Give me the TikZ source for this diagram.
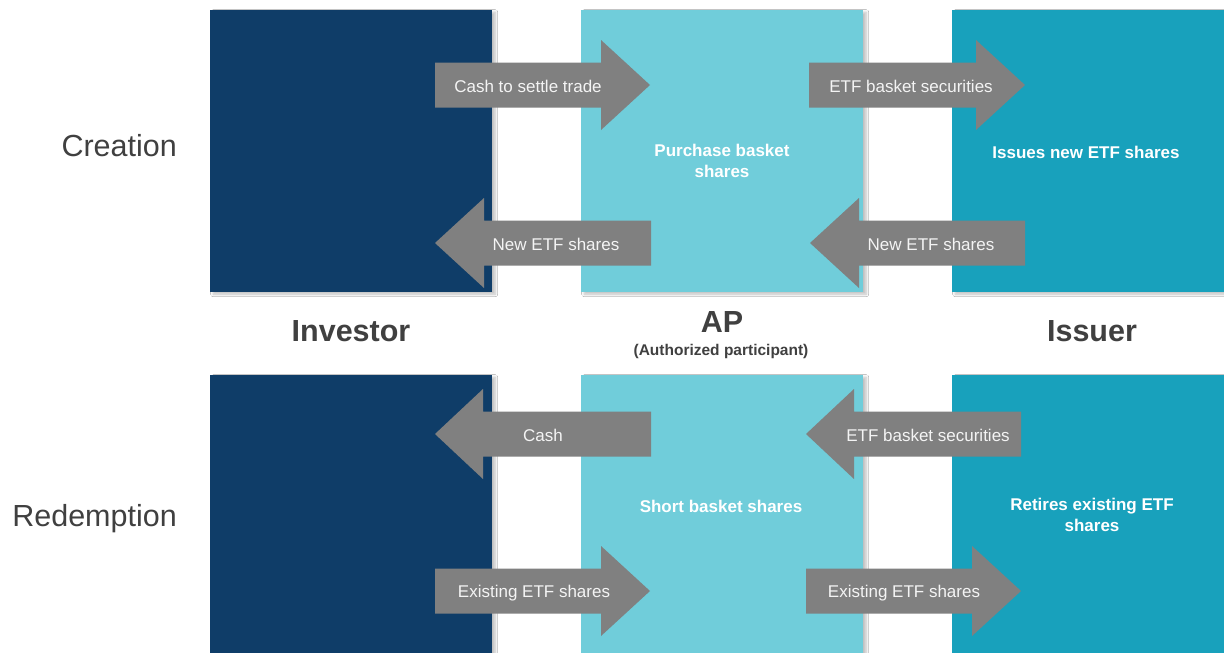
\documentclass[tikz,border=0pt]{standalone}
\usepackage{fontspec}
\setmainfont{Liberation Sans}
\usetikzlibrary{shadows.blur}

\definecolor{investorblue}{HTML}{0F3D68}
\definecolor{apblue}{HTML}{70CDDA}
\definecolor{issuerblue}{HTML}{18A1BC}
\definecolor{flowgray}{HTML}{808080}
\definecolor{labelgray}{HTML}{404040}
\definecolor{flowtext}{HTML}{F4F4F4}

\tikzset{
  panel/.style={draw=none, anchor=north west, inner sep=0pt,
    blur shadow={shadow xshift=3pt, shadow yshift=-2pt, shadow blur steps=6, shadow blur radius=2.5pt, shadow opacity=25}},
  flowfill/.style={fill=flowgray},
  flowlabel/.style={text=flowtext, font=\fontsize{17}{20}\selectfont, inner sep=0pt},
  paneltext/.style={text=white, font=\bfseries\fontsize{17}{21}\selectfont, align=center, inner sep=0pt},
  rowlabel/.style={text=labelgray, font=\fontsize{30.5}{34}\selectfont, anchor=base east, inner sep=0pt},
  partylabel/.style={text=labelgray, font=\bfseries\fontsize{30.5}{34}\selectfont, inner sep=0pt},
}

% right-pointing block arrow: body start, head base, tip, centre line
\newcommand\rightflow[4]{%
  \fill[flowfill] (#1,#4-22.5) -- (#2,#4-22.5) -- (#2,#4-45) -- (#3,#4)
    -- (#2,#4+45) -- (#2,#4+22.5) -- (#1,#4+22.5) -- cycle;}
% left-pointing block arrow: tip, head base, body end, centre line
\newcommand\leftflow[4]{%
  \fill[flowfill] (#1,#4) -- (#2,#4-45) -- (#2,#4-22.5) -- (#3,#4-22.5)
    -- (#3,#4+22.5) -- (#2,#4+22.5) -- (#2,#4+45) -- cycle;}

\begin{document}
\begin{tikzpicture}[x=1pt, y=-1pt]
\useasboundingbox[fill=white] (0,0) rectangle (1224,653);

% panels: creation row
\node[panel, fill=investorblue, minimum width=282pt, minimum height=282pt] (invTop) at (210,10) {};
\node[panel, fill=apblue, minimum width=282pt, minimum height=282pt] (apTop) at (581,10) {};
\node[panel, fill=issuerblue, minimum width=272pt, minimum height=282pt] (issTop) at (952,10) {};
% panels: redemption row
\node[panel, fill=investorblue, minimum width=282pt, minimum height=278pt] (invBot) at (210,375) {};
\node[panel, fill=apblue, minimum width=282pt, minimum height=278pt] (apBot) at (581,375) {};
\node[panel, fill=issuerblue, minimum width=272pt, minimum height=278pt] (issBot) at (952,375) {};

% creation flows
\rightflow{435}{601}{650}{85}
\node[flowlabel] (cashSettle) at (528,86) {Cash to settle trade};
\rightflow{809}{976}{1025}{85}
\node[flowlabel] (basketIn) at (911,86) {ETF basket securities};
\leftflow{435}{484}{651}{243}
\node[flowlabel] (newSharesInv) at (556,244) {New ETF shares};
\leftflow{810}{859}{1025}{243}
\node[flowlabel] (newSharesAP) at (931,244) {New ETF shares};

% redemption flows
\leftflow{435}{483}{651}{434}
\node[flowlabel] (cashBack) at (543,435) {Cash};
\leftflow{806}{854}{1021}{434}
\node[flowlabel] (basketOut) at (928,435) {ETF basket securities};
\rightflow{435}{601}{650}{591}
\node[flowlabel] (existInv) at (534,593) {Existing ETF shares};
\rightflow{806}{972}{1021}{591}
\node[flowlabel] (existAP) at (904,593) {Existing ETF shares};

% panel captions
\node[paneltext] (purchase) at (722,161) {Purchase basket\\shares};
\node[paneltext] (issues) at (1086,152) {Issues new ETF shares};
\node[paneltext] (short) at (721,506) {Short basket shares};
\node[paneltext] (retires) at (1092,515) {Retires existing ETF\\shares};

% row labels
\node[rowlabel] (creation) at (177,156) {Creation};
\node[rowlabel] (redemption) at (177,526) {Redemption};

% party labels
\node[partylabel] (investor) at (351,331) {Investor};
\node[partylabel] (ap) at (722,322) {AP};
\node[text=labelgray, font=\bfseries\fontsize{15.5}{18}\selectfont, inner sep=0pt] (apfull) at (721,351) {(Authorized participant)};
\node[partylabel] (issuer) at (1092,331) {Issuer};
\end{tikzpicture}
\end{document}
